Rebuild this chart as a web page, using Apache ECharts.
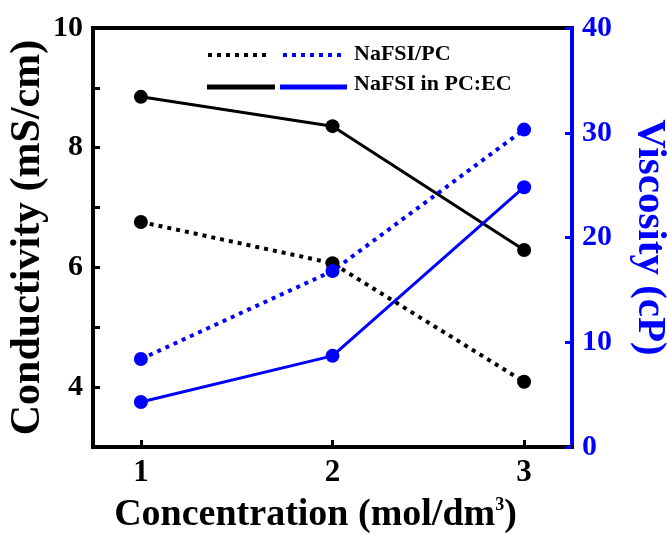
<!DOCTYPE html>
<html>
<head>
<meta charset="utf-8">
<script src="https://cdn.jsdelivr.net/npm/echarts@6/dist/echarts.min.js"></script>
<style>html,body{margin:0;padding:0;background:#fff}#c{width:667px;height:537px}</style>
</head>
<body>
<div id="c"></div>
<script>
var concentration = [1, 2, 3];
var condPC = [6.76, 6.07, 4.09];
var condPCEC = [8.85, 8.36, 6.29];
var viscPC = [8.4, 16.8, 30.3];
var viscPCEC = [4.3, 8.7, 24.8];
var xTicks = [1, 2, 3];
var leftLabels = [4, 6, 8, 10];
var leftTicks = [4, 5, 6, 7, 8, 9, 10];

function pairs(xs, ys) { return xs.map(function (x, i) { return [x, ys[i]]; }); }

var FONT = 'Liberation Serif';
var chart = echarts.init(document.getElementById('c'), null, {renderer: 'canvas'});
var dotted = [4, 5];
chart.setOption({
  animation: false,
  grid: {left: 93, right: 95, top: 28, bottom: 90, outerBoundsMode: 'none', containLabel: false,
         show: true, borderColor: '#000', borderWidth: 4, backgroundColor: 'transparent'},
  xAxis: {
    type: 'value', min: 0.75, max: 3.25,
    axisLine: {lineStyle: {color: '#000', width: 4}},
    axisTick: {inside: true, length: 7, lineStyle: {width: 3, color: '#000'}, customValues: xTicks},
    axisLabel: {customValues: xTicks, color: '#000', fontFamily: FONT, fontWeight: 'bold', fontSize: 31, margin: 10},
    splitLine: {show: false},
    name: '{a|Concentration (mol/dm}{s|3}{a|)}',
    nameLocation: 'middle', nameGap: 49, nameMoveOverlap: false,
    nameTextStyle: {padding: [0, 34, 0, 0], rich: {
      a: {fontFamily: FONT, fontWeight: 'bold', fontSize: 38, color: '#000'},
      s: {fontFamily: FONT, fontWeight: 'bold', fontSize: 18, color: '#000', verticalAlign: 'top', padding: [0, 0, 20, 0]}
    }}
  },
  yAxis: [{
    type: 'value', min: 3, max: 10,
    axisLine: {lineStyle: {color: '#000', width: 4}},
    axisTick: {inside: true, length: 7, lineStyle: {width: 3, color: '#000'}, customValues: leftTicks},
    axisLabel: {customValues: leftLabels, color: '#000', fontFamily: FONT, fontWeight: 'bold', fontSize: 30, margin: 10},
    splitLine: {show: false},
    name: 'Conductivity (mS/cm)', nameLocation: 'middle', nameGap: 44, nameRotate: 90, nameMoveOverlap: false,
    nameTextStyle: {fontFamily: FONT, fontWeight: 'bold', fontSize: 42, color: '#000'}
  }, {
    type: 'value', min: 0, max: 40, interval: 10, position: 'right',
    axisLine: {show: true, lineStyle: {color: '#0000ff', width: 4}},
    axisTick: {show: true, inside: true, length: 7, lineStyle: {width: 3, color: '#0000ff'}},
    axisLabel: {color: '#0000ff', fontFamily: FONT, fontWeight: 'bold', fontSize: 30, margin: 10},
    splitLine: {show: false},
    name: 'Viscosity (cP)', nameLocation: 'middle', nameGap: 57, nameRotate: -90, nameMoveOverlap: false,
    nameTextStyle: {fontFamily: FONT, fontWeight: 'bold', fontSize: 41, color: '#0000ff'}
  }],
  series: [
    {name: 'NaFSI/PC cond', type: 'line', yAxisIndex: 0, data: pairs(concentration, condPC), symbol: 'circle', symbolSize: 14,
     itemStyle: {color: '#000'}, lineStyle: {color: '#000', width: 4, type: dotted}},
    {name: 'NaFSI in PC:EC cond', type: 'line', yAxisIndex: 0, data: pairs(concentration, condPCEC), symbol: 'circle', symbolSize: 14,
     itemStyle: {color: '#000'}, lineStyle: {color: '#000', width: 3}},
    {name: 'NaFSI/PC visc', type: 'line', yAxisIndex: 1, data: pairs(concentration, viscPC), symbol: 'circle', symbolSize: 14,
     itemStyle: {color: '#0000ff'}, lineStyle: {color: '#0000ff', width: 4, type: dotted}},
    {name: 'NaFSI in PC:EC visc', type: 'line', yAxisIndex: 1, data: pairs(concentration, viscPCEC), symbol: 'circle', symbolSize: 14,
     itemStyle: {color: '#0000ff'}, lineStyle: {color: '#0000ff', width: 3}}
  ],
  graphic: [
    {type: 'line', shape: {x1: 208, y1: 55, x2: 268, y2: 55}, style: {stroke: '#000', lineWidth: 4, lineDash: [4, 5]}},
    {type: 'line', shape: {x1: 283, y1: 55, x2: 343, y2: 55}, style: {stroke: '#0000ff', lineWidth: 4, lineDash: [4, 5]}},
    {type: 'text', x: 354, y: 54, style: {text: 'NaFSI/PC', fill: '#000', font: 'bold 22px "Liberation Serif"', verticalAlign: 'middle'}},
    {type: 'line', shape: {x1: 207, y1: 87, x2: 275, y2: 87}, style: {stroke: '#000', lineWidth: 5}},
    {type: 'line', shape: {x1: 280, y1: 87, x2: 347, y2: 87}, style: {stroke: '#0000ff', lineWidth: 5}},
    {type: 'text', x: 354, y: 84, style: {text: 'NaFSI in PC:EC', fill: '#000', font: 'bold 22px "Liberation Serif"', verticalAlign: 'middle'}}
  ]
});
</script>
</body>
</html>
